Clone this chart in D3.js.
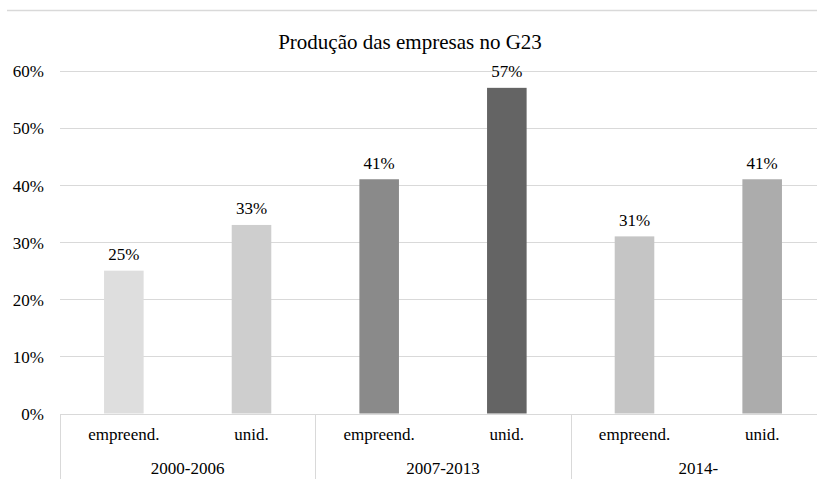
<!DOCTYPE html>
<html>
<head>
<meta charset="utf-8">
<script src="https://cdn.jsdelivr.net/npm/d3@7"></script>
</head>
<body style="margin:0;padding:0;background:#fff">
<svg id="chart" width="817" height="479" style="display:block"></svg>
<script>
const title = "Produção das empresas no G23";
const groups = ["2000-2006", "2007-2013", "2014-"];
const subCategories = ["empreend.", "unid.", "empreend.", "unid.", "empreend.", "unid."];
const values = [0.25, 0.33, 0.41, 0.57, 0.31, 0.41];
const barColors = ["#dedede", "#cecece", "#8a8a8a", "#646464", "#c5c5c5", "#acacac"];
const yTicks = [0, 0.1, 0.2, 0.3, 0.4, 0.5, 0.6];

const FONT = "'Liberation Serif', Tinos, 'Times New Roman', Times, serif";
const W = 817, H = 479;
const plot = { left: 60, right: 826, top: 70.7, bottom: 413.5 };
const gridColor = "#d9d9d9";

const svg = d3.select("#chart");
const ids = d3.range(values.length);

const x = d3.scaleBand().domain(ids).range([plot.left, plot.right])
  .paddingInner(0.69).paddingOuter(0.345);
const y = d3.scaleLinear().domain([0, 0.6]).range([plot.bottom, plot.top]);
const xg = d3.scaleBand().domain(groups).range([plot.left, plot.right]);
const pct = d3.format(".0%");

function styleText(sel, size) {
  return sel.style("font-family", FONT).style("font-size", size + "px").style("fill", "#000");
}

// top border line
svg.append("line").attr("x1", 7).attr("x2", W).attr("y1", 10.5).attr("y2", 10.5)
  .attr("stroke", gridColor).attr("stroke-width", 1.5);

// title
styleText(svg.append("text").attr("x", 410).attr("y", 49).attr("text-anchor", "middle"), 21).text(title);

// gridlines
svg.append("g").selectAll("line").data(yTicks).join("line")
  .attr("x1", plot.left).attr("x2", W)
  .attr("y1", d => Math.round(y(d)) + 0.5).attr("y2", d => Math.round(y(d)) + 0.5)
  .attr("stroke", gridColor).attr("stroke-width", 1);

// y axis labels
const yAxis = d3.axisLeft(y).tickValues(yTicks).tickFormat(pct).tickSize(0).tickPadding(0);
const ya = svg.append("g").attr("transform", `translate(${plot.left - 16},0)`).call(yAxis);
ya.select(".domain").remove();
styleText(ya.selectAll("text"), 17).attr("dy", "0.36em");

// bars
svg.append("g").selectAll("rect").data(ids).join("rect")
  .attr("x", i => x(i)).attr("width", x.bandwidth())
  .attr("y", i => y(values[i])).attr("height", i => y(0) - y(values[i]))
  .attr("fill", i => barColors[i]);

// value labels
styleText(svg.append("g").selectAll("text").data(ids).join("text")
  .attr("x", i => x(i) + x.bandwidth() / 2).attr("y", i => y(values[i]) - 10.5)
  .attr("text-anchor", "middle"), 17)
  .text(i => pct(values[i]));

// group separators
const seps = groups.map(g => xg(g)).concat([plot.right]);
svg.append("g").selectAll("line").data(seps).join("line")
  .attr("x1", d => Math.round(d) + 0.5).attr("x2", d => Math.round(d) + 0.5)
  .attr("y1", Math.round(y(0)) + 0.5).attr("y2", H)
  .attr("stroke", gridColor).attr("stroke-width", 1);

// sub-category labels
styleText(svg.append("g").selectAll("text").data(ids).join("text")
  .attr("x", i => x(i) + x.bandwidth() / 2).attr("y", 440)
  .attr("text-anchor", "middle"), 17)
  .text(i => subCategories[i]);

// group labels
styleText(svg.append("g").selectAll("text").data(groups).join("text")
  .attr("x", g => xg(g) + xg.bandwidth() / 2).attr("y", 474)
  .attr("text-anchor", "middle"), 17)
  .text(g => g);
</script>
</body>
</html>
